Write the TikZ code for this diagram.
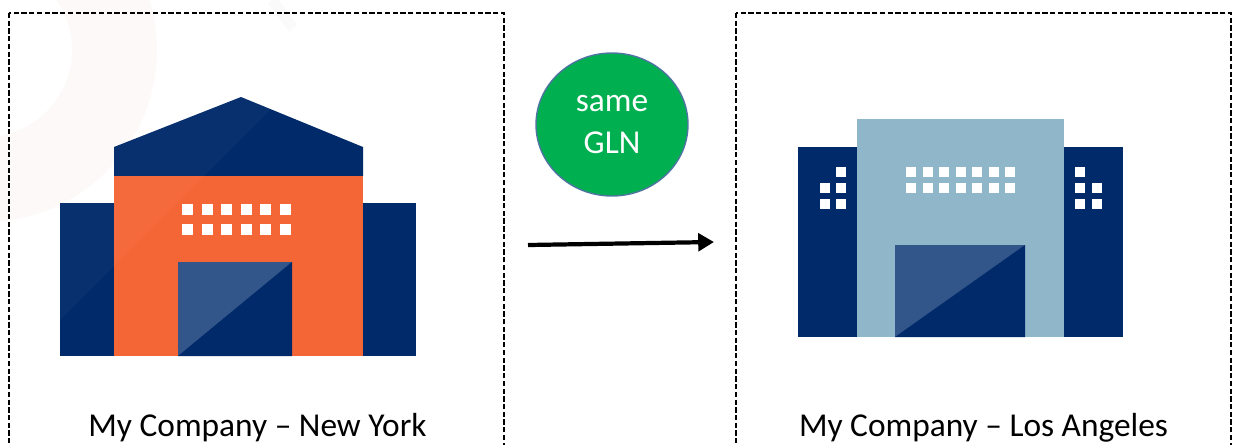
\documentclass[tikz,border=0pt]{standalone}
\usepackage{fontspec}
\setmainfont{Carlito}
\usetikzlibrary{arrows.meta,shapes.geometric}
\definecolor{navy}{HTML}{012A6B}
\definecolor{doorblue}{HTML}{33568A}
\definecolor{brick}{HTML}{F46636}
\definecolor{steel}{HTML}{8FB6C9}
\definecolor{glngreen}{HTML}{00B050}
\definecolor{glnedge}{HTML}{4F75A0}
\definecolor{palepink}{HTML}{FDF9F9}
\definecolor{palegray}{HTML}{FAFAFA}
\tikzset{
  sitebox/.style={draw=black,line width=0.85pt,dash pattern=on 3pt off 1.4pt},
  sitelabel/.style={font=\fontsize{19}{23}\selectfont,anchor=base},
  glnbubble/.style={ellipse,draw=glnedge,line width=0.8pt,fill=glngreen,text=white,
    minimum width=152*0.02cm,minimum height=143*0.02cm,inner sep=0pt,align=center,
    font=\fontsize{19}{23.5}\selectfont},
  moveline/.style={line width=2.4pt,-{Triangle[length=9pt,width=10pt]}},
}
\begin{document}
\begin{tikzpicture}[x=0.02cm,y=-0.02cm]
\clip (0,0) rectangle (1237,444);
\useasboundingbox (0,0) rectangle (1237,444);

% faint marks behind
\fill[color=palepink,even odd rule] (-15,50) circle (172) (-15,50) circle (87);
\draw[color=palegray,line width=6pt] (272,0) -- (293,28);

% dashed boxes
\draw[sitebox] (9,13) rectangle (504,470);
\draw[sitebox] (736,13) rectangle (1231,470);

% New York
\fill[color=navy] (60,203) rectangle (416,356);
\fill[color=navy] (114,147) -- (241,97) -- (363,147) -- (363,176) -- (114,176) -- cycle;
\fill[color=brick] (114,176) rectangle (363,356);
\begin{scope}
\clip (60,203) rectangle (114,356) (114,147) -- (241,97) -- (363,147) -- (363,356) -- (114,356) -- cycle;
\fill[color=white,opacity=0.03] (60,320) -- (270,110) -- (270,90) -- (60,90) -- cycle;
\end{scope}
\fill[color=doorblue] (178,262) rectangle (292,356);
\fill[color=navy] (178,356) -- (292,262) -- (292,356) -- cycle;
\foreach \x in {182,201.5,221,240.5,260,279.5} {
  \foreach \y in {204,223.5} {
    \fill[color=white] (\x,\y) rectangle (\x+11,\y+11);
  }
}
\node[sitelabel] (nylabel) at (257.5,436) {My Company – New York};

% middle
\node[glnbubble] (gln) at (612,124.5) {same\\GLN};
\coordinate (movefrom) at (528,245);
\coordinate (moveto) at (714,242);
\draw[moveline] (movefrom) -- (moveto);

% Los Angeles
\fill[color=navy] (798,147) rectangle (1123,337);
\fill[color=steel] (857,119) rectangle (1064,337);
\fill[color=doorblue] (895,245) rectangle (1025,337);
\fill[color=navy] (895,337) -- (1025,245) -- (1025,337) -- cycle;
\foreach \x in {906,922.5,939,955.5,972,988.5,1005} {
  \foreach \y in {166.5,182.5} {
    \fill[color=white] (\x,\y) rectangle (\x+10,\y+10);
  }
}
\foreach \x/\y in {836/166.5,820/183,836/183,820/199,836/199,1075/166.5,1075/183,1091.5/183,1075/199,1091.5/199} {
  \fill[color=white] (\x,\y) rectangle (\x+10,\y+10);
}
\node[sitelabel] (lalabel) at (983.5,436) {My Company – Los Angeles};
\end{tikzpicture}
\end{document}
